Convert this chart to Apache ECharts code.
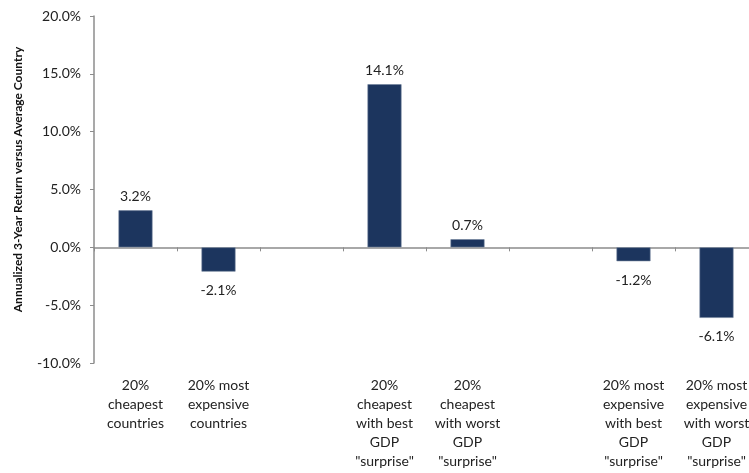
<!DOCTYPE html>
<html>
<head>
<meta charset="utf-8">
<script src="https://cdn.jsdelivr.net/npm/echarts@6/dist/echarts.min.js"></script>
<style>
html,body{margin:0;padding:0;background:#fff;}
#chart{width:749px;height:473px;}
</style>
</head>
<body>
<div id="chart"></div>
<script>
var categories = [
  "20%\ncheapest\ncountries",
  "20% most\nexpensive\ncountries",
  "",
  "20%\ncheapest\nwith best\nGDP\n\"surprise\"",
  "20%\ncheapest\nwith worst\nGDP\n\"surprise\"",
  "",
  "20% most\nexpensive\nwith best\nGDP\n\"surprise\"",
  "20% most\nexpensive\nwith worst\nGDP\n\"surprise\""
];
var values = [3.2, -2.1, null, 14.1, 0.7, null, -1.2, -6.1];
var yAxisName = "Annualized 3-Year Return versus Average Country";
var yMin = -10, yMax = 20, yInterval = 5;

var FONT = "Lato";
var chart = echarts.init(document.getElementById('chart'), null, {renderer: 'canvas'});
chart.setOption({
  animation: false,
  grid: {left: 94, right: -9, top: 16, bottom: 110, containLabel: false, outerBoundsMode: 'none'},
  xAxis: [{
    type: 'category',
    data: categories,
    axisLine: {onZero: true, lineStyle: {color: '#8c8c8c', width: 1.5}},
    axisTick: {show: true, length: 4, lineStyle: {color: '#8c8c8c'}},
    axisLabel: {show: false}
  }, {
    type: 'category',
    data: categories,
    position: 'bottom',
    axisLine: {show: false, onZero: false},
    axisTick: {show: false},
    axisLabel: {
      show: true, interval: 0, margin: 13, color: '#222', fontFamily: FONT, fontSize: 14,
      lineHeight: 19, align: 'center', hideOverlap: false
    }
  }],
  yAxis: {
    type: 'value',
    min: yMin, max: yMax, interval: yInterval,
    name: yAxisName,
    nameLocation: 'middle',
    nameGap: 70,
    nameRotate: 90,
    nameTextStyle: {fontFamily: FONT, fontSize: 12, fontWeight: 'bold', color: '#111', padding: [0, 0, 0, 20]},
    axisLine: {show: true, lineStyle: {color: '#8c8c8c', width: 1.5}},
    axisTick: {show: true, length: 4, lineStyle: {color: '#8c8c8c'}},
    splitLine: {show: false},
    axisLabel: {
      margin: 13, color: '#222', fontFamily: FONT, fontSize: 14,
      formatter: function (v) { return v.toFixed(1) + '%'; }
    }
  },
  series: [{
    type: 'bar',
    xAxisIndex: 0,
    data: values.map(function (v) {
      if (v === null) return null;
      return {
        value: v,
        label: {
          show: true,
          position: v >= 0 ? 'top' : 'bottom',
          distance: v >= 0 ? 7 : 12,
          formatter: function (p) { return p.value.toFixed(1) + '%'; },
          fontFamily: FONT, fontSize: 14, color: '#222'
        }
      };
    }),
    barWidth: 34,
    itemStyle: {color: '#1c355e', borderColor: '#6f8099', borderWidth: 0.6}
  }]
});
</script>
</body>
</html>
